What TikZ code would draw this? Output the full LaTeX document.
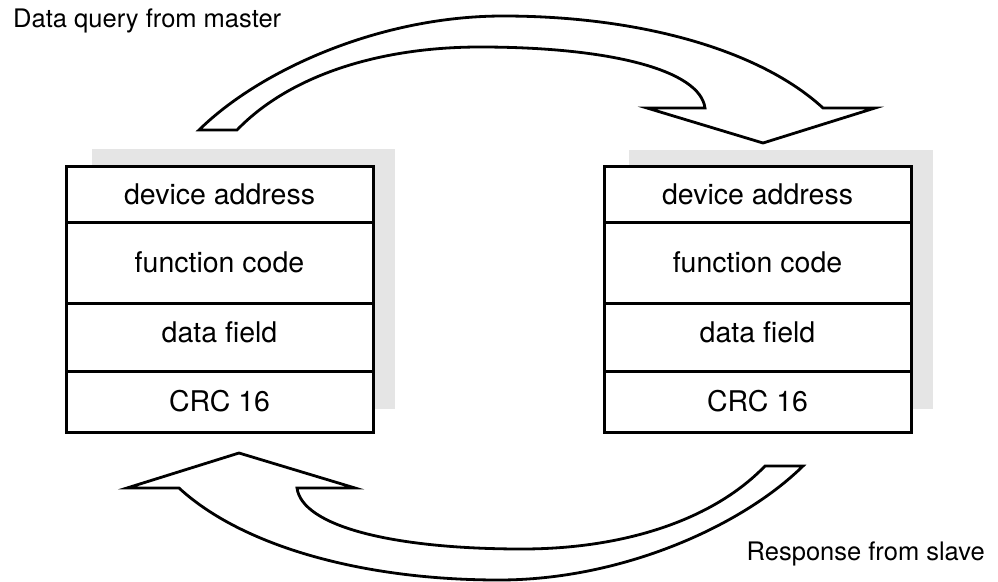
\documentclass[tikz,border=0pt]{standalone}
\usepackage{fontspec}
\setmainfont{TeX Gyre Heros}
\usetikzlibrary{positioning}

\begin{document}
\begin{tikzpicture}[
  x=1pt, y=-1pt,
  field/.style={draw,line width=3pt,fill=white,minimum width=307pt,
                inner sep=0pt,outer sep=0pt,font=\fontsize{28.5}{30}\selectfont},
  shade/.style={fill=black!10},
  bigarrow/.style={draw,line width=2.8pt,fill=white,line join=miter},
  msglab/.style={font=\fontsize{25.5}{28}\selectfont,inner sep=0pt},
  swoop/.pic={
    \draw[bigarrow] (199,130) -- (237,130)
      .. controls (290,75) and (380,47) .. (480,47)
      .. controls (610,47) and (700,70) .. (705,108)
      -- (647,108) -- (763,143) -- (875,108) -- (823,108)
      .. controls (760,50) and (640,16) .. (503,16)
      .. controls (380,16) and (260,70) .. (199,130) -- cycle;
  },
]
\useasboundingbox (0,0) rectangle (998,581);

% shadows
\fill[shade] (92,149) rectangle (395,409);
\fill[shade] (629,150) rectangle (933,409);

% master frame
\node[field,minimum height=56pt,anchor=north west] (mdev) at (66,166) {device address};
\node[field,minimum height=81pt,below=0pt of mdev] (mfun) {function code};
\node[field,minimum height=68pt,text depth=10pt,below=0pt of mfun] (mdat) {data field};
\node[field,minimum height=61pt,below=0pt of mdat] (mcrc) {CRC 16};

% slave frame
\node[field,minimum height=56pt,right=231pt of mdev] (sdev) {device address};
\node[field,minimum height=81pt,below=0pt of sdev] (sfun) {function code};
\node[field,minimum height=68pt,text depth=10pt,below=0pt of sfun] (sdat) {data field};
\node[field,minimum height=61pt,below=0pt of sdat] (scrc) {CRC 16};

% arrows
\pic at (0,0) {swoop};
\pic[rotate=180] at (1002,596) {swoop};

% captions
\node[msglab,anchor=base west] (query) at (13,27) {Data query from master};
\node[msglab,anchor=base east] (reply) at (985,560) {Response from slave};

\end{tikzpicture}
\end{document}
